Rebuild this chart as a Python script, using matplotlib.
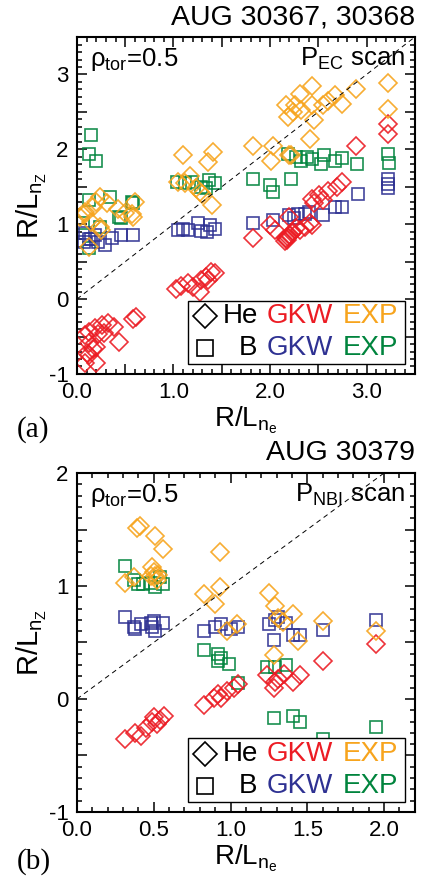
import numpy as np
import matplotlib
matplotlib.use('Agg')
import matplotlib.pyplot as plt
from matplotlib.ticker import MultipleLocator, FuncFormatter
from matplotlib.patches import Rectangle

plt.rcParams['font.family'] = ['Liberation Sans', 'DejaVu Sans']
plt.rcParams['mathtext.fontset'] = 'custom'
plt.rcParams['mathtext.rm'] = 'Liberation Sans'
plt.rcParams['mathtext.it'] = 'Liberation Sans'
plt.rcParams['axes.unicode_minus'] = False

RED = '#ec1c24'
ORANGE = '#f7a41d'
BLUE = '#2e3192'
GREEN = '#00843d'

# ---------------- panel (a): AUG 30367, 30368, P_EC scan ----------------
a_he_gkw_x = [0.08, 0.13, 0.19, 0.26, 0.32, 0.38, 0.58, 0.61, 0.44, 0.12, 0.17, 0.20, 0.10, 0.13, 0.08, 0.20, 0.22, 0.28,
              1.03, 1.08, 1.15, 1.20, 1.27, 1.29, 1.34, 1.39, 1.43, 1.36,
              1.82, 2.00, 2.05, 2.17, 2.20, 2.24, 2.31, 2.36, 2.41, 2.44, 2.20, 2.46, 2.55, 2.44, 2.51, 2.60,
              2.69, 2.75, 2.89, 3.22, 3.22, 2.16, 2.18, 2.19, 2.21, 2.23, 2.27]
a_he_gkw_y = [-0.48, -0.44, -0.39, -0.35, -0.32, -0.37, -0.26, -0.24, -0.57, -0.59, -0.66, -0.64, -0.72, -0.75, -0.86, -0.85, -0.46, -0.45,
              0.14, 0.17, 0.21, 0.16, 0.10, 0.25, 0.30, 0.36, 0.35, 0.26,
              0.81, 0.99, 0.92, 0.81, 0.85, 0.90, 0.92, 0.96, 1.01, 0.99, 1.10, 1.28, 1.32, 1.34, 1.39, 1.45,
              1.50, 1.56, 2.05, 2.34, 2.21, 0.77, 0.79, 0.83, 0.86, 0.88, 0.95]

a_he_exp_x = [0.08, 0.24, 0.31, 0.43, 0.60, 0.08, 0.17, 0.15, 0.24, 0.25, 0.12, 0.57, 0.50, 0.03, 0.58, 0.20,
              1.10, 1.41, 1.36, 1.17, 1.05, 1.23, 1.27, 1.30, 1.40, 1.12,
              1.82, 2.03, 2.01, 2.22, 2.41, 2.19, 2.24, 2.17, 2.31, 2.26, 2.32, 2.44, 2.44, 2.46, 2.55, 2.60,
              2.67, 2.75, 2.89, 3.22, 3.22, 2.20]
a_he_exp_y = [1.14, 1.36, 1.28, 1.21, 1.30, 1.16, 1.23, 1.03, 0.96, 0.92, 0.70, 1.14, 1.15, 1.10, 1.10, 1.30,
              1.93, 1.96, 1.83, 1.65, 1.56, 1.48, 1.43, 1.40, 1.26, 1.55,
              2.05, 2.05, 1.84, 1.92, 2.14, 2.43, 2.50, 2.59, 2.74, 2.59, 2.52, 2.85, 2.59, 2.39, 2.59, 2.65,
              2.72, 2.61, 2.81, 2.88, 2.54, 1.93]

a_b_gkw_x = [0.08, 0.15, 0.22, 0.29, 0.36, 0.46, 0.58, 0.07, 0.19, 0.12,
             1.05, 1.15, 1.25, 1.29, 1.38, 1.43, 1.35, 1.10,
             1.82, 2.03, 2.20, 2.29, 2.36, 2.55, 2.67, 2.75, 2.25, 2.40, 2.91, 3.22, 3.22, 3.22]
a_b_gkw_y = [0.88, 0.80, 0.76, 0.72, 0.82, 0.85, 0.86, 0.76, 0.86, 0.80,
             0.92, 0.92, 1.01, 0.91, 0.99, 0.93, 0.89, 0.94,
             1.01, 1.05, 1.12, 1.14, 1.14, 1.12, 1.23, 1.23, 1.08, 1.16, 1.41, 1.61, 1.54, 1.48]

a_b_exp_x = [0.15, 0.12, 0.20, 0.34, 0.58, 0.13, 0.44, 0.46, 0.06, 0.24, 0.12, 0.57,
             1.04, 1.12, 1.19, 1.29, 1.37, 1.43, 1.34,
             1.82, 2.00, 2.03, 2.22, 2.19, 2.27, 2.32, 2.38, 2.43, 2.53, 2.56, 2.67, 2.75, 2.90, 3.22, 3.23]
a_b_exp_y = [2.19, 1.94, 1.84, 1.36, 1.29, 1.32, 1.09, 1.08, 1.01, 0.96, 0.68, 1.30,
             1.56, 1.55, 1.56, 1.50, 1.59, 1.55, 1.48,
             1.61, 1.52, 1.43, 1.61, 1.94, 1.90, 1.85, 1.90, 1.87, 1.81, 1.92, 1.85, 1.89, 1.80, 1.94, 1.82]

# ---------------- panel (b): AUG 30379, P_NBI scan ----------------
b_he_gkw_x = [0.31, 0.38, 0.42, 0.45, 0.49, 0.50, 0.52, 0.57, 0.54, 0.83, 0.89, 0.92, 0.94, 0.98, 1.02, 1.05,
              1.24, 1.28, 1.29, 1.31, 1.35, 1.41, 1.45, 1.60, 1.95]
b_he_gkw_y = [-0.35, -0.30, -0.33, -0.26, -0.20, -0.16, -0.22, -0.15, -0.19, -0.05, 0.01, 0.04, 0.01, 0.07, 0.10, 0.13,
              0.21, 0.10, 0.15, 0.18, 0.22, 0.15, 0.21, 0.34, 0.49]

b_he_exp_x = [0.39, 0.41, 0.51, 0.56, 0.31, 0.37, 0.49, 0.50, 0.51, 0.48, 0.53, 0.52, 0.93, 0.83, 0.93, 0.90,
              0.98, 1.04, 1.25, 1.29, 1.31, 1.34, 1.41, 1.44, 1.60, 1.95, 1.28]
b_he_exp_y = [1.51, 1.53, 1.44, 1.33, 1.03, 1.08, 1.17, 1.12, 1.09, 1.09, 1.10, 1.05, 1.30, 0.93, 0.99, 0.84,
              0.60, 0.66, 0.94, 0.82, 0.72, 0.68, 0.75, 0.51, 0.69, 0.60, 0.39]

b_b_gkw_x = [0.31, 0.37, 0.38, 0.42, 0.48, 0.50, 0.51, 0.56, 0.49, 0.83, 0.90, 0.94, 1.00, 1.05,
             1.25, 1.29, 1.31, 1.36, 1.28, 1.41, 1.45, 1.60, 1.95]
b_b_gkw_y = [0.73, 0.64, 0.62, 0.66, 0.67, 0.69, 0.60, 0.67, 0.64, 0.60, 0.64, 0.66, 0.62, 0.64,
             0.66, 0.70, 0.73, 0.67, 0.52, 0.57, 0.57, 0.61, 0.70]

b_b_exp_x = [0.31, 0.37, 0.40, 0.43, 0.48, 0.51, 0.56, 0.54, 0.83, 0.92, 0.94, 0.92, 0.99, 1.05,
             1.24, 1.29, 1.36, 1.28, 1.41, 1.45, 1.60, 1.95]
b_b_exp_y = [1.18, 1.05, 1.02, 1.02, 1.03, 0.99, 1.02, 1.08, 0.43, 0.40, 0.36, 0.34, 0.31, 0.14,
             0.28, 0.28, 0.30, -0.17, -0.15, -0.20, -0.35, -0.25]

fig = plt.figure(figsize=(4.25, 8.82), dpi=100)
ax_a = fig.add_axes([0.181, 0.576, 0.795, 0.382])
ax_b = fig.add_axes([0.181, 0.0794, 0.795, 0.3843])


def draw_panel(ax, he_gkw, he_exp, b_gkw, b_exp, xmax, ymin, ymax, xlab_step, title, scan):
    # marker order: B EXP, B GKW, He GKW, He EXP
    ax.plot(*b_exp, 's', ms=8.2, mfc='none', mec=GREEN, mew=1.2, alpha=0.9)
    ax.plot(*b_gkw, 's', ms=8.2, mfc='none', mec=BLUE, mew=1.2, alpha=0.9)
    ax.plot(*he_gkw, 'D', ms=9, mfc='none', mec=RED, mew=1.2, alpha=0.9)
    ax.plot(*he_exp, 'D', ms=9, mfc='none', mec=ORANGE, mew=1.2, alpha=0.9)

    ax.plot([0, 4], [0, 4], ls=(0, (5, 4)), color='black', lw=0.7)

    ax.set_xlim(0, xmax)
    ax.set_ylim(ymin, ymax)

    ax.xaxis.set_major_locator(MultipleLocator(0.5))
    ax.xaxis.set_minor_locator(MultipleLocator(0.1))
    ax.yaxis.set_major_locator(MultipleLocator(0.5))
    ax.yaxis.set_minor_locator(MultipleLocator(0.1))

    def xfmt(v, p):
        k = v / xlab_step
        return f'{v:.1f}' if abs(k - round(k)) < 1e-6 else ''

    def yfmt(v, p):
        return f'{int(round(v))}' if abs(v - round(v)) < 1e-6 else ''

    ax.xaxis.set_major_formatter(FuncFormatter(xfmt))
    ax.yaxis.set_major_formatter(FuncFormatter(yfmt))

    ax.tick_params(which='both', direction='in', top=True, right=True, labelsize=16, width=1.1)
    ax.tick_params(which='major', length=7, pad=6)
    ax.tick_params(which='minor', length=3.5)
    for s in ax.spines.values():
        s.set_linewidth(1.5)

    ax.set_xlabel(r'R/L$_{n_e}$', fontsize=20, labelpad=1)
    ax.set_ylabel(r'R/L$_{n_Z}$', fontsize=21, labelpad=0)

    ax.text(1.0, 1.02, title, transform=ax.transAxes, ha='right', va='bottom', fontsize=20.5)
    ax.text(0.038, 0.915, r'ρ$_{\mathrm{tor}}$=0.5', transform=ax.transAxes, ha='left', va='baseline',
            fontsize=18.5)
    ax.text(0.97, 0.915, r'P$_{\mathrm{' + scan + r'}}$ scan', transform=ax.transAxes, ha='right',
            va='baseline', fontsize=18.5)

    # legend box
    ax.add_patch(Rectangle((0.328, 0.03), 0.642, 0.187, transform=ax.transAxes, fill=True,
                           fc='white', ec='black', lw=1.0, zorder=5))
    rows = [(0.15, 'D', 12, 'He', RED, ORANGE), (0.055, 's', 11, 'B', BLUE, GREEN)]
    for y, m, ms, name, c1, c2 in rows:
        ax.plot([0.378], [y + 0.022], m, ms=ms, mfc='none', mec='black', mew=1.2,
                transform=ax.transAxes, zorder=6, clip_on=False)
        ax.text(0.535, y, name, transform=ax.transAxes, ha='right', va='baseline', fontsize=20, zorder=6)
        ax.text(0.56, y, 'GKW', transform=ax.transAxes, ha='left', va='baseline', fontsize=20,
                color=c1, zorder=6)
        ax.text(0.952, y, 'EXP', transform=ax.transAxes, ha='right', va='baseline', fontsize=20,
                color=c2, zorder=6)


draw_panel(ax_a, (a_he_gkw_x, a_he_gkw_y), (a_he_exp_x, a_he_exp_y),
           (a_b_gkw_x, a_b_gkw_y), (a_b_exp_x, a_b_exp_y),
           3.5, -1, 3.5, 1.0, 'AUG 30367, 30368', 'EC')
draw_panel(ax_b, (b_he_gkw_x, b_he_gkw_y), (b_he_exp_x, b_he_exp_y),
           (b_b_gkw_x, b_b_gkw_y), (b_b_exp_x, b_b_exp_y),
           2.2, -1, 2, 0.5, 'AUG 30379', 'NBI')

fig.text(0.04, 1 - 430 / 882, '(a)', family='Liberation Serif', fontsize=21, ha='left', va='center')
fig.text(0.04, 1 - 862 / 882, '(b)', family='Liberation Serif', fontsize=21, ha='left', va='center')

fig.savefig('out.png', dpi=100)
